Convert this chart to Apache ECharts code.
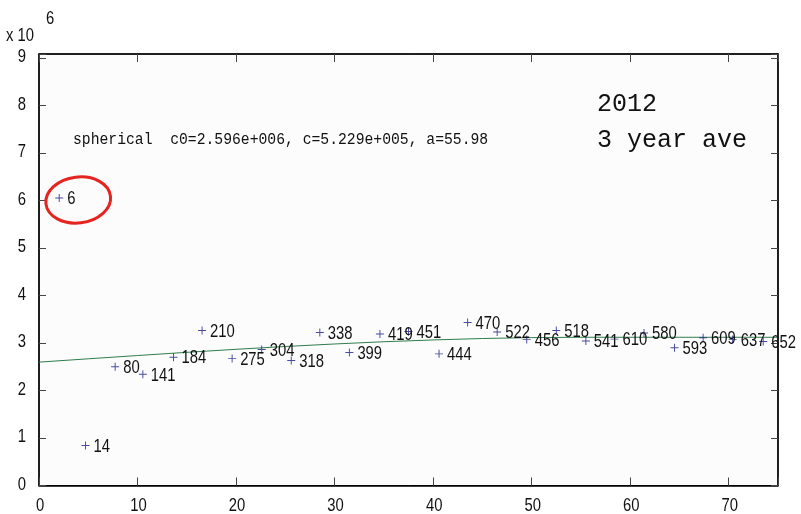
<!DOCTYPE html>
<html>
<head>
<meta charset="utf-8">
<script src="https://cdn.jsdelivr.net/npm/echarts@6/dist/echarts.min.js"></script>
<style>
html,body{margin:0;padding:0;background:#fff;}
#chart{width:801px;height:514px;}
</style>
</head>
<body>
<div id="chart"></div>
<script>
// Point labels (pair counts), lag distances and semivariance values (x 10^6)
var pointLabels = [6,14,80,141,184,210,275,304,318,338,399,419,451,444,470,522,456,518,541,610,580,593,609,637,652];
var lagX = [2.05,4.72,7.73,10.54,13.65,16.55,19.6,22.6,25.6,28.5,31.5,34.6,37.5,40.6,43.5,46.5,49.5,52.5,55.5,58.4,61.4,64.5,67.4,70.4,73.5];
var gammaY = [6.05,0.84,2.50,2.34,2.70,3.26,2.67,2.86,2.63,3.22,2.80,3.19,3.24,2.77,3.43,3.23,3.07,3.26,3.04,3.08,3.21,2.90,3.11,3.07,3.03];
// Fitted model curve (x 10^6)
var fitX = [0,5,10,15,20,25,30,35,40,45,50,55,60,65,70,75];
var fitY = [2.596,2.666,2.735,2.802,2.866,2.925,2.978,3.025,3.063,3.093,3.112,3.119,3.119,3.119,3.119,3.119];
// Axis tick labels
var xTicks = [0,10,20,30,40,50,60,70];
var yTicks = [0,1,2,3,4,5,6,7,8,9];
var modelText = 'spherical  c0=2.596e+006, c=5.229e+005, a=55.98';
var yearText = '2012';
var aveText = '3 year ave';
var scaleText = 'x 10';
var scaleExp = '6';

var SANS = "'Liberation Sans',Arial,sans-serif";
var MONO = "'Liberation Mono','DejaVu Sans Mono',monospace";
var NARROW_FONT = '19px ' + SANS;
var NARROW_SCALE = 0.78;

var scatterData = lagX.map(function(x,i){ return [x, gammaY[i]]; });
var labelData = lagX.map(function(x,i){ return [x, gammaY[i], pointLabels[i]]; });
var fitData = fitX.map(function(x,i){ return [x, fitY[i]]; });
var xTickData = xTicks.map(function(v){ return [v, 0]; });
var yTickData = yTicks.map(function(v){ return [0, v]; });

var chart = echarts.init(document.getElementById('chart'), null, {renderer:'canvas'});
var plus = 'path://M-0.12,-1H0.12V1H-0.12ZM-1,-0.12H1V0.12H-1Z';

function xAx(pos){
  return {
    type:'value', position:pos, min:0, max:75, interval:10,
    axisLine:{show:true, onZero:false, lineStyle:{color:'#000', width:1.5}},
    axisTick:{show:true, inside:true, length:8, lineStyle:{color:'#444', width:1}},
    axisLabel:{show:false},
    splitLine:{show:false}
  };
}
function yAx(pos){
  return {
    type:'value', position:pos, min:0, max:9.08, interval:1,
    axisLine:{show:true, onZero:false, lineStyle:{color:'#000', width:1.5}},
    axisTick:{show:true, inside:true, length:7, lineStyle:{color:'#444', width:1}},
    axisLabel:{show:false},
    splitLine:{show:false}
  };
}
function narrowText(x, y, text, align, vAlign){
  return {type:'text', x:x, y:y, scaleX:NARROW_SCALE,
    style:{text:String(text), font:NARROW_FONT, fill:'#111', align:align, verticalAlign:vAlign}};
}
function staticGraphics(){
  return [
    {type:'text', x:6, y:26, scaleX:NARROW_SCALE, style:{text:scaleText, font:NARROW_FONT, fill:'#111'}},
    {type:'text', x:46, y:9, scaleX:NARROW_SCALE, style:{text:scaleExp, font:NARROW_FONT, fill:'#111'}},
    {type:'text', x:73, y:132, scaleX:0.92, style:{text:modelText, font:'16px '+MONO, fill:'#111'}},
    {type:'text', x:597, y:92, style:{text:yearText, font:'25px '+MONO, fill:'#111'}},
    {type:'text', x:597, y:128, style:{text:aveText, font:'25px '+MONO, fill:'#111'}}
  ];
}

chart.setOption({
  backgroundColor:'#ffffff',
  animation:false,
  grid:{left:39, top:54, right:23, bottom:28.5, show:true, backgroundColor:'#fcfcfc', borderColor:'#000', borderWidth:1},
  xAxis:[xAx('bottom'), xAx('top')],
  yAxis:[yAx('left'), yAx('right')],
  series:[
    {
      type:'line', data:fitData, showSymbol:false, symbol:'none', smooth:false,
      lineStyle:{color:'#2e7d4d', width:1}, z:2
    },
    {
      type:'scatter', data:scatterData, symbol:plus, symbolSize:8,
      itemStyle:{color:'#1c1c8a'}, z:3
    },
    { // point labels
      type:'custom', data:labelData, clip:false, z:4, silent:true,
      renderItem:function(params, api){
        var p = api.coord([api.value(0), api.value(1)]);
        return narrowText(p[0]+8, p[1]+1, api.value(2), 'left', 'middle');
      }
    },
    { // x tick labels
      type:'custom', data:xTickData, clip:false, z:4, silent:true,
      renderItem:function(params, api){
        var p = api.coord([api.value(0), api.value(1)]);
        return narrowText(p[0]+1, p[1]+11, api.value(0), 'center', 'top');
      }
    },
    { // y tick labels
      type:'custom', data:yTickData, clip:false, z:4, silent:true,
      renderItem:function(params, api){
        var p = api.coord([api.value(0), api.value(1)]);
        return narrowText(p[0]-13, p[1]-1, api.value(1), 'right', 'middle');
      }
    }
  ],
  graphic:staticGraphics()
});

// Red hand-drawn ring around the first point (annotation)
var c = chart.convertToPixel({xAxisIndex:0, yAxisIndex:0}, [lagX[0], gammaY[0]]);
var g = staticGraphics();
g.push({type:'ellipse', shape:{cx:0, cy:0, rx:32.5, ry:23}, x:c[0]+19, y:c[1]+2, rotation:0.12,
  style:{fill:'none', stroke:'#e5231f', lineWidth:3}, z:10});
chart.setOption({graphic:g}, {replaceMerge:['graphic']});
</script>
</body>
</html>
